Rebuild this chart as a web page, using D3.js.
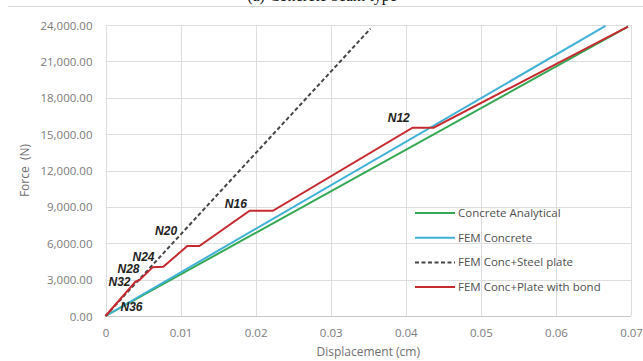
<!DOCTYPE html>
<html>
<head>
<meta charset="utf-8">
<script src="https://cdn.jsdelivr.net/npm/d3@7"></script>
<style>
  body { margin: 0; background: #fff; }
  svg { display: block; }
</style>
</head>
<body>
<div id="chart"></div>
<script>
// displacement (cm), force (N)
var analytical = [[0, 0], [0.0696, 23860]];
var femConcrete = [[0, 0], [0.0666, 23920]];
var steelPlate = [[0, 0], [0.0353, 23700]];
var plateBond = [
  [0, 0], [0.0040, 2830], [0.0045, 2950], [0.0063, 4030], [0.0077, 4060],
  [0.0109, 5770], [0.0125, 5770], [0.0192, 8680], [0.0223, 8680],
  [0.0409, 15530], [0.0437, 15530], [0.0696, 23860]
];
var seriesNames = ['Concrete Analytical', 'FEM Concrete', 'FEM Conc+Steel plate', 'FEM Conc+Plate with bond'];
var nodeLabels = [
  { t: 'N36', x: 0.0020, y: 750 },
  { t: 'N32', x: 0.0004, y: 2830 },
  { t: 'N28', x: 0.0016, y: 3920 },
  { t: 'N24', x: 0.0036, y: 4890 },
  { t: 'N20', x: 0.0066, y: 7040 },
  { t: 'N16', x: 0.0159, y: 9250 },
  { t: 'N12', x: 0.0376, y: 16310 }
];
var xTicks = [0, 0.01, 0.02, 0.03, 0.04, 0.05, 0.06, 0.07];
var yTicks = [0, 3000, 6000, 9000, 12000, 15000, 18000, 21000, 24000];

var W = 643, H = 361;
var margin = { top: 25, right: 12, bottom: 45, left: 105.5 };

var svg = d3.select('#chart').append('svg').attr('width', W).attr('height', H);

// caption of the figure, cut off at the top edge
svg.append('text')
  .attr('x', 322).attr('y', 1)
  .attr('text-anchor', 'middle')
  .style('font-family', 'Liberation Serif')
  .style('font-size', '16px')
  .attr('fill', '#111')
  .text('(a) Concrete beam type');

svg.append('line')
  .attr('x1', 8).attr('x2', W).attr('y1', 6.5).attr('y2', 6.5)
  .attr('stroke', '#d9d9d9');

var x = d3.scaleLinear().domain([0, 0.07]).range([margin.left, W - margin.right]);
var y = d3.scaleLinear().domain([0, 24000]).range([H - margin.bottom, margin.top]);

var g = svg.append('g');

// grid
g.selectAll('.hgrid').data(yTicks).enter().append('line')
  .attr('x1', x(0)).attr('x2', x(0.07))
  .attr('y1', function (d) { return Math.round(y(d)) + 0.5; })
  .attr('y2', function (d) { return Math.round(y(d)) + 0.5; })
  .attr('stroke', function (d) { return d == 0 ? '#c8c8c8' : '#dedede'; });
g.selectAll('.vgrid').data(xTicks).enter().append('line')
  .attr('y1', y(0)).attr('y2', y(24000))
  .attr('x1', function (d) { return Math.round(x(d)) + 0.5; })
  .attr('x2', function (d) { return Math.round(x(d)) + 0.5; })
  .attr('stroke', '#dedede');

// axes
var fmtY = d3.format(',.2f');
var yAxis = g.append('g').attr('transform', 'translate(' + (x(0) - 13) + ',0)')
  .call(d3.axisLeft(y).tickValues(yTicks).tickSize(0).tickPadding(0).tickFormat(fmtY));
var xAxis = g.append('g').attr('transform', 'translate(0,' + (y(0) + 17) + ')')
  .call(d3.axisBottom(x).tickValues(xTicks).tickSize(0).tickPadding(0)
    .tickFormat(function (d) { return d == 0 ? '0' : d3.format('.2f')(d); }));
[yAxis, xAxis].forEach(function (a) {
  a.select('.domain').remove();
  a.selectAll('text')
    .style('font-family', 'Open Sans')
    .style('font-size', '11.5px')
    .attr('fill', '#7b7b7b');
});
yAxis.selectAll('text').attr('dy', '0.35em');
xAxis.selectAll('text').attr('dy', '0.35em');

svg.append('text')
  .attr('transform', 'translate(25,' + ((y(0) + y(24000)) / 2) + ') rotate(-90)')
  .attr('text-anchor', 'middle')
  .attr('dy', '0.35em')
  .style('font-family', 'Open Sans')
  .style('font-size', '12px')
  .style('white-space', 'pre')
  .attr('fill', '#6f6f6f')
  .text('Force  (N)');

svg.append('text')
  .attr('x', (x(0) + x(0.07)) / 2).attr('y', 352)
  .attr('text-anchor', 'middle')
  .attr('dy', '0.35em')
  .style('font-family', 'Open Sans')
  .style('font-size', '12px')
  .attr('fill', '#6f6f6f')
  .text('Displacement (cm)');

// series
var line = d3.line().x(function (d) { return x(d[0]); }).y(function (d) { return y(d[1]); });
var styles = [
  { data: analytical, color: '#34a853', dash: null },
  { data: femConcrete, color: '#3fb1d6', dash: null },
  { data: steelPlate, color: '#454545', dash: '4,2.5' },
  { data: plateBond, color: '#c62a2f', dash: null }
];
styles.forEach(function (s) {
  g.append('path')
    .datum(s.data)
    .attr('d', line)
    .attr('fill', 'none')
    .attr('stroke', s.color)
    .attr('stroke-width', 2)
    .attr('stroke-dasharray', s.dash);
});

// node labels
g.selectAll('.nlab').data(nodeLabels).enter().append('text')
  .attr('x', function (d) { return x(d.x); })
  .attr('y', function (d) { return y(d.y); })
  .attr('dy', '0.35em')
  .style('font-family', 'Liberation Sans')
  .style('font-size', '12px')
  .style('font-weight', 'bold')
  .style('font-style', 'italic')
  .attr('fill', '#222')
  .text(function (d) { return d.t; });

// legend
var legend = svg.append('g').attr('transform', 'translate(415,213)');
seriesNames.forEach(function (name, i) {
  var row = legend.append('g').attr('transform', 'translate(0,' + (i * 24.7) + ')');
  row.append('line')
    .attr('x1', 0).attr('x2', 40)
    .attr('stroke', styles[i].color)
    .attr('stroke-width', 2)
    .attr('stroke-dasharray', styles[i].dash);
  row.append('text')
    .attr('x', 43).attr('dy', '0.35em')
    .style('font-family', 'Open Sans')
    .style('font-size', '11.5px')
    .attr('fill', '#4f4f4f')
    .text(name);
});
</script>
</body>
</html>
